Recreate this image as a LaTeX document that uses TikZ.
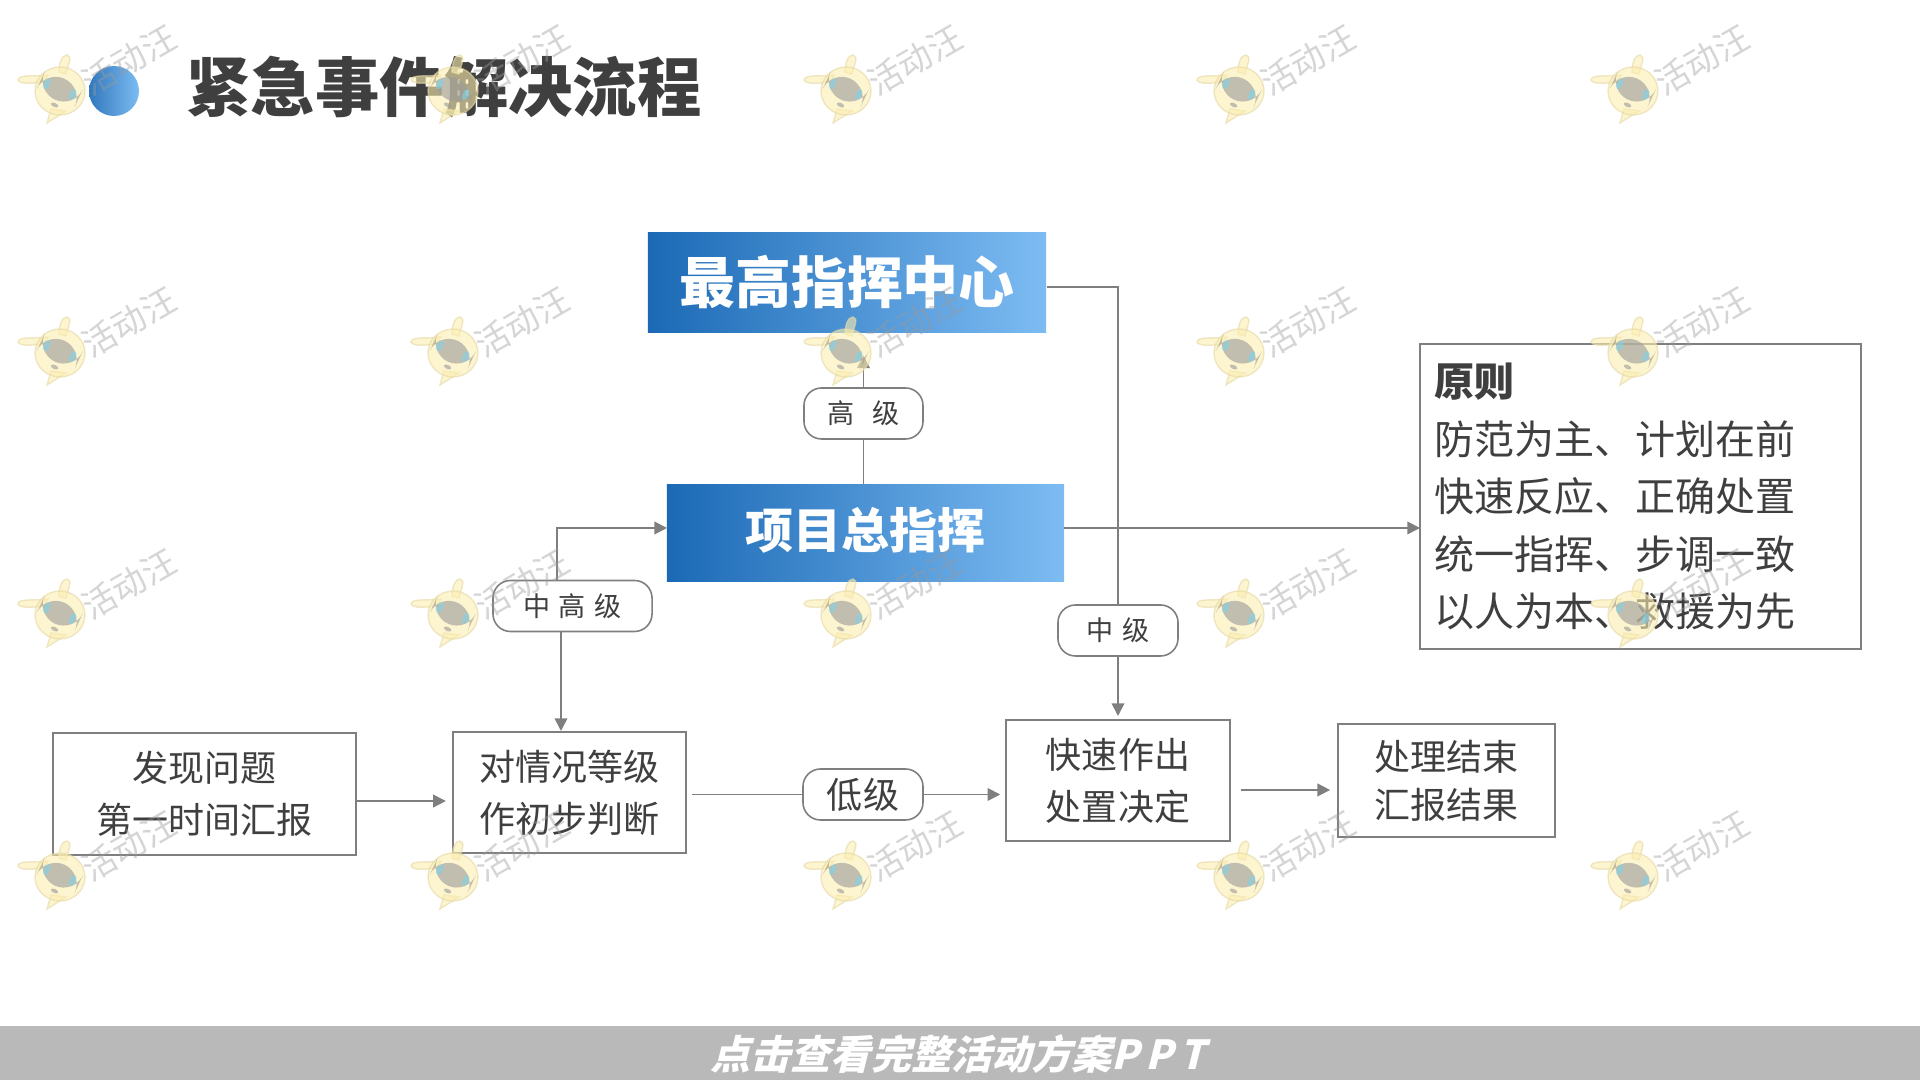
\documentclass[tikz,border=0pt]{standalone}
\usepackage{fontspec}
\setmainfont{Noto Sans CJK SC}
\newfontfamily\slantfont[FakeSlant=0.25]{Noto Sans CJK SC}
\usetikzlibrary{arrows.meta}
\definecolor{linegray}{HTML}{7F7F7F}
\definecolor{inkgray}{HTML}{3F3F3F}
\definecolor{bargray}{HTML}{B9B9B9}
\definecolor{darkblue}{HTML}{1B69B5}
\definecolor{lightblue}{HTML}{7DBCF3}
\definecolor{wmyellow}{HTML}{FBEDB0}
\definecolor{wmedge}{HTML}{E6D9A6}
\definecolor{wmgray}{HTML}{9A9A9A}
\definecolor{wmeye}{HTML}{7FD3E8}
\tikzset{
      link/.style={draw=linegray, line width=0.5pt},
      linkarrow/.style={link, -{Triangle[length=3.6pt,width=3.6pt]}},
      plainbox/.style={draw=linegray, line width=0.45pt, fill=white, text=inkgray, align=center, inner sep=0pt,
            font=\fontsize{10.24}{14.8}\selectfont},
      bluebox/.style={left color=darkblue, right color=lightblue, text=white, inner sep=0pt, font=\bfseries},
      pill/.style={draw=linegray, line width=0.45pt, fill=white, text=inkgray, rounded corners=5pt, inner sep=0pt,
            font=\fontsize{7.7}{9}\selectfont},
      wmtext/.style={text=wmgray, opacity=0.42, rotate=30, inner sep=0pt, font=\fontsize{9.6}{11}\selectfont},
      wmbody/.style={fill=wmyellow, draw=wmedge, line width=0.4pt},
}
\begin{document}
\begin{tikzpicture}[x=0.01cm,y=-0.01cm]
        \useasboundingbox (0,0) rectangle (1920,1080);

        % Title and bottom bar
        \shade[left color=darkblue!90, right color=lightblue] (114,91) circle (25);
        \node[text=inkgray, inner sep=0pt, font=\fontsize{18.3}{20}\selectfont\bfseries] (title) at (444,87) {紧急事件解决流程};
        \fill[bargray] (0,1026) rectangle (1920,1080);
        \node[text=white, inner sep=0pt, font=\fontsize{11.38}{13}\selectfont\slantfont\bfseries] (barlabel) at (958,1054) {点击查看完整活动方案P\,P\,T};

        % Draw the boxes
        \node[bluebox, minimum width=398*0.2845pt, minimum height=99*0.2845pt, font=\fontsize{15.9}{18}\selectfont\bfseries] (topbox) at (847,282.5) {最高指挥中心};
        \node[bluebox, minimum width=397*0.2845pt, minimum height=96*0.2845pt, font=\fontsize{13.65}{16}\selectfont\bfseries] (chiefbox) at (865.5,533) {\raisebox{2.8pt}{项目总指挥}};
        \node[plainbox, minimum width=303*0.2845pt, minimum height=122*0.2845pt] (findbox) at (204.5,794) {发现问题\\第一时间汇报};
        \node[plainbox, minimum width=233*0.2845pt, minimum height=121*0.2845pt] (judgebox) at (569.5,792.5) {对情况等级\\作初步判断};
        \node[plainbox, minimum width=224*0.2845pt, minimum height=121*0.2845pt] (decidebox) at (1118,780.5) {快速作出\\处置决定};
        \node[plainbox, minimum width=217*0.2845pt, minimum height=113*0.2845pt, font=\fontsize{10.24}{13.65}\selectfont] (endbox) at (1446.5,780.5) {\raisebox{0.6pt}{处理结束}\\\raisebox{0.6pt}{汇报结果}};
        \node[plainbox, minimum width=441*0.2845pt, minimum height=305*0.2845pt, text width=411*0.2845pt, align=left, font=\fontsize{11.38}{16.36}\selectfont] (rulesbox) at (1640.5,496.5) {\textbf{原则}\\防范为主、计划在前\\快速反应、正确处置\\统一指挥、步调一致\\以人为本、救援为先};

        % Draw the level labels
        \node[pill, minimum width=119*0.2845pt, minimum height=51*0.2845pt] (highpill) at (863.5,413.5) {高\hspace{5pt}级};
        \node[pill, minimum width=159*0.2845pt, minimum height=51*0.2845pt] (midhighpill) at (572.5,606) {中\hspace{2.5pt}高\hspace{2.5pt}级};
        \node[pill, minimum width=120*0.2845pt, minimum height=51*0.2845pt] (midpill) at (1118,630.5) {中\hspace{2.5pt}级};
        \node[pill, minimum width=120*0.2845pt, minimum height=51*0.2845pt, font=\fontsize{10.24}{12}\selectfont] (lowpill) at (863,794.5) {低级};

        % Free ends
        \coordinate (chiefin) at (667,528);
        \coordinate (chiefout) at (1064,528);
        \coordinate (rulesin) at (1420,528);
        \coordinate (upstart) at (557,580);
        \coordinate (downstart) at (561,631);
        \coordinate (downend) at (561,731);

        % Draw the connectors
        \draw[link] (chiefbox.north -| highpill.south) -- (highpill.south);
        \draw[linkarrow, shorten >=6.5pt] (highpill.north) -- (highpill.north |- topbox.south);
        \draw[link] ([yshift=-1.3pt]topbox.east) -| (midpill.north);
        \draw[linkarrow, shorten >=0.9pt] (midpill.south) -- (decidebox.north);
        \draw[linkarrow] (chiefout) -- (rulesin);
        \draw[linkarrow] (upstart) |- (chiefin);
        \draw[linkarrow] (downstart) -- (downend);
        \draw[linkarrow, shorten >=1.8pt] ([yshift=-2pt]findbox.east) -- ([yshift=-2pt]findbox.east -| judgebox.west);
        \draw[link, shorten <=1.4pt] (lowpill.west -| judgebox.east) -- (lowpill.west);
        \draw[linkarrow, shorten >=1.4pt] (lowpill.east) -- (lowpill.east -| decidebox.west);
        \draw[linkarrow, shorten <=2.85pt, shorten >=2pt] ([yshift=-2.7pt]decidebox.east) -- ([yshift=-2.7pt]decidebox.east -| endbox.west);

        % Watermark grid on top
        \foreach \wx [count=\i] in {60,453,846,1239,1633} {
            \foreach \wy [count=\j] in {91,353,615,877} {
                \begin{scope}[shift={(\wx,\wy)}, opacity=0.6]
                    \draw[wmbody] (-1,-19) .. controls (-1,-28) and (2,-36) .. (7,-36) .. controls (13,-35) and (8,-26) .. (6,-17) -- cycle;
                    \draw[wmbody] (-16,-9) .. controls (-24,-8) and (-40,-6) .. (-42,-11) .. controls (-41,-17) and (-28,-14) .. (-12,-16) -- cycle;
                    \draw[wmbody] (-9,18) -- (-13,32) -- (6,20) -- cycle;
                    \draw[wmbody] (0,0) ellipse (25 and 24);
                    \fill[wmgray, rotate=-25, rounded corners=6pt] (-22,-13) rectangle (20,10);
                    \fill[wmeye, rotate=-25] (-15,-1) ellipse (3 and 6);
                    \fill[wmeye, rotate=-25] (13,-2) ellipse (3 and 6);
                    \fill[wmgray, rotate=-25] (1,15) ellipse (4 and 2);
                \end{scope}
                \node[wmtext] (wm\i\j) at (\wx+69,\wy-31) {活动汪};
            }
        }

    \end{tikzpicture}
\end{document}
